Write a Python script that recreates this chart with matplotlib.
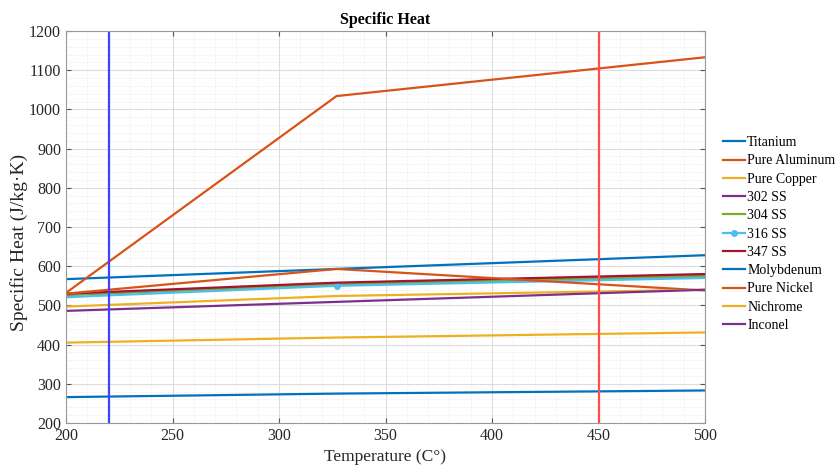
import numpy as np
import matplotlib.pyplot as plt
from matplotlib.ticker import MultipleLocator

plt.rcParams['font.family'] = ['Liberation Serif', 'DejaVu Serif']

# Temperaturas (°C)
temps = [200, 327, 500]

# Calor específico (J/kg.K)
titanium = [567, 593, 628]
pure_aluminum = [532, 1034, 1133]
pure_copper = [405, 418, 431]
ss302 = [527, 554, 575]
ss304 = [527, 554, 575]
ss316 = [521, 550, 570]
ss347 = [530, 558, 580]
molybdenum = [266, 275, 283]
pure_nickel = [530, 593, 538]
nichrome = [497, 524, 540]
inconel = [486, 509, 540]

names = ["Titanium", "Pure Aluminum", "Pure Copper", "302 SS", "304 SS", "316 SS",
         "347 SS", "Molybdenum", "Pure Nickel", "Nichrome", "Inconel"]
series = [titanium, pure_aluminum, pure_copper, ss302, ss304, ss316, ss347,
          molybdenum, pure_nickel, nichrome, inconel]

# limites de operação
t_low = 220
t_high = 450

cores = ["#0072BD", "#D95319", "#EDB120", "#7E2F8E", "#77AC30", "#4DBEEE",
         "#A2142F", "#0072BD", "#D95319", "#EDB120", "#7E2F8E"]

fig = plt.figure(figsize=(8.4, 4.7), dpi=100)
ax = fig.add_axes([66/840, 1 - 423/470, 639/840, 392/470])

for nome, y, c in zip(names, series, cores):
    if nome == "316 SS":
        ax.plot(temps, y, color=c, lw=1.6, marker='o', markersize=4, markevery=[1], label=nome)
    else:
        ax.plot(temps, y, color=c, lw=1.6, label=nome)

ax.axvline(t_low, color=(0.25, 0.25, 1.0), lw=1.6)
ax.axvline(t_high, color=(1.0, 0.3, 0.3), lw=1.6)

ax.set_xlim(200, 500)
ax.set_ylim(200, 1200)
ax.xaxis.set_major_locator(MultipleLocator(50))
ax.xaxis.set_minor_locator(MultipleLocator(10))
ax.yaxis.set_major_locator(MultipleLocator(100))
ax.yaxis.set_minor_locator(MultipleLocator(20))
ax.grid(True, which='major', color='#dcdcdc', lw=0.8)
ax.grid(True, which='minor', color='#e6e6e6', lw=0.6, linestyle=':')
ax.set_axisbelow(True)
ax.tick_params(which='both', direction='in', top=True, right=True, colors='#555555',
               labelcolor='#262626', labelsize=11.5)
ax.tick_params(which='minor', length=0)
for s in ax.spines.values():
    s.set_color('#999999')

ax.set_title("Specific Heat", fontsize=11.5, fontweight='bold', pad=5)
ax.set_xlabel("Temperature (C°)", fontsize=12.5, color='#262626')
ax.set_ylabel("Specific Heat (J/kg·K)", fontsize=14, color='#262626')
ax.yaxis.set_label_coords(-0.06, 0.46)

ax.legend(loc='center left', bbox_to_anchor=(1.028, 0.482), frameon=False, fontsize=10,
          handlelength=1.6, handletextpad=0.15, labelspacing=0.38, borderaxespad=0,
          borderpad=0)

fig.savefig("out.png", dpi=100)
